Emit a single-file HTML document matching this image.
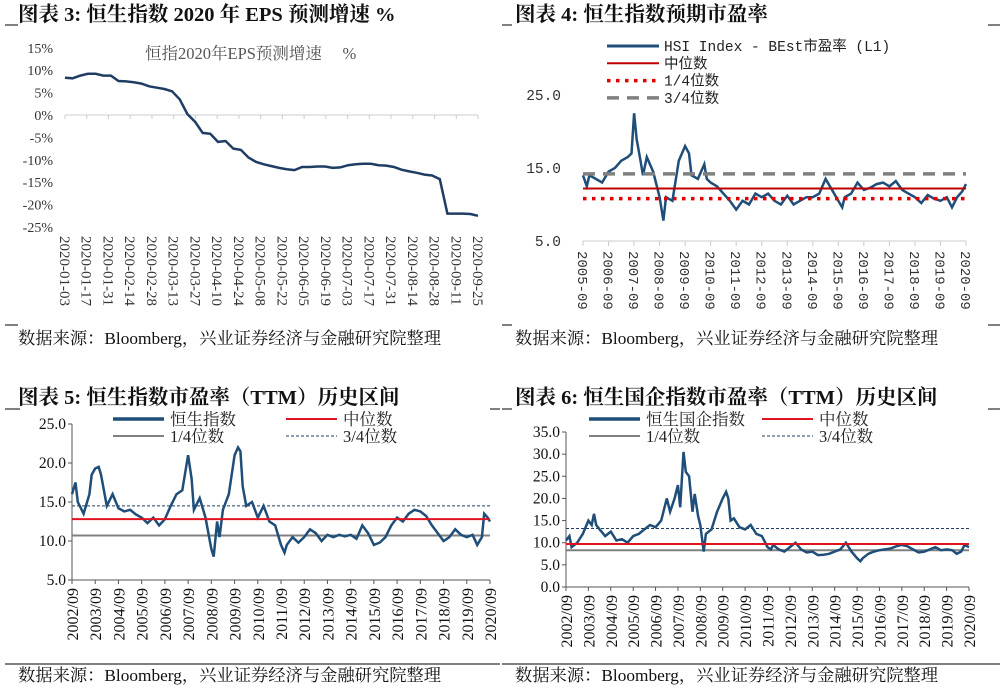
<!DOCTYPE html>
<html><head><meta charset="utf-8"><style>
body{margin:0;background:#fff;width:1001px;height:688px;overflow:hidden}
svg{display:block}
.t{font-family:"Liberation Serif","Noto Serif CJK SC",serif;font-weight:bold;font-size:20.5px;fill:#111}
.s{font-family:"Liberation Serif","Noto Serif CJK SC",serif;font-size:17.3px;fill:#111}
.ax{font-family:"Liberation Serif","Noto Serif CJK SC",serif;fill:#333}
.lg{font-family:"Liberation Serif","Noto Serif CJK SC",serif;fill:#222}
</style></head><body>
<svg id="svg" width="1001" height="688">
<text class="t" x="18" y="21">图表 3:  恒生指数 2020 年 EPS 预测增速 %</text>
<text class="t" x="515" y="21">图表 4:  恒生指数预期市盈率</text>
<text class="t" x="18" y="404">图表 5:  恒生指数市盈率（TTM）历史区间</text>
<text class="t" x="515" y="404">图表 6:  恒生国企指数市盈率（TTM）历史区间</text>
<text class="s" x="18" y="344">数据来源：Bloomberg，兴业证券经济与金融研究院整理</text>
<text class="s" x="515" y="344">数据来源：Bloomberg，兴业证券经济与金融研究院整理</text>
<text class="s" x="18" y="681">数据来源：Bloomberg，兴业证券经济与金融研究院整理</text>
<text class="s" x="515" y="681">数据来源：Bloomberg，兴业证券经济与金融研究院整理</text>
<g stroke="#000" stroke-width="1">
<line x1="5" y1="25" x2="18" y2="25"/><line x1="5" y1="325" x2="18" y2="325"/>
<line x1="502" y1="25" x2="512" y2="25"/><line x1="988" y1="25" x2="1000" y2="25"/>
<line x1="502" y1="325" x2="512" y2="325"/><line x1="988" y1="325" x2="1000" y2="325"/>
<line x1="5" y1="409" x2="20" y2="409"/><line x1="490" y1="409" x2="500" y2="409"/>
<line x1="502" y1="409" x2="512" y2="409"/><line x1="988" y1="409" x2="1000" y2="409"/>
<line x1="5" y1="664" x2="500" y2="664"/><line x1="502" y1="664" x2="1000" y2="664"/>
</g>
<text class="lg" x="145" y="59" style="font-size:16.5px;fill:#555">恒指2020年EPS预测增速　 %</text>
</svg>
<script>
// ---- Chart 3 data ----
var c3Labels=["2020-01-03","2020-01-17","2020-01-31","2020-02-14","2020-02-28","2020-03-13","2020-03-27","2020-04-10","2020-04-24","2020-05-08","2020-05-22","2020-06-05","2020-06-19","2020-07-03","2020-07-17","2020-07-31","2020-08-14","2020-08-28","2020-09-11","2020-09-25"];
var c3Values=[8.3,8.2,8.8,9.2,9.2,8.8,8.8,7.6,7.5,7.3,7.0,6.4,6.1,5.8,5.3,3.5,0.2,-1.5,-4.0,-4.2,-6.0,-5.8,-7.5,-7.8,-9.5,-10.5,-11.0,-11.4,-11.8,-12.1,-12.3,-11.6,-11.6,-11.5,-11.5,-11.8,-11.7,-11.2,-11.0,-10.9,-10.9,-11.2,-11.3,-11.6,-12.2,-12.6,-12.9,-13.3,-13.5,-14.3,-22.0,-22.0,-22.0,-22.1,-22.5];
var c3Ticks=[15,10,5,0,-5,-10,-15,-20,-25];
// ---- Chart 4 data ----
var c4Labels=["2005-09","2006-09","2007-09","2008-09","2009-09","2010-09","2011-09","2012-09","2013-09","2014-09","2015-09","2016-09","2017-09","2018-09","2019-09","2020-09"];
var c4Dates=[2005.75,2005.9,2006.0,2006.25,2006.5,2006.75,2007.0,2007.25,2007.5,2007.65,2007.75,2007.85,2008.0,2008.1,2008.25,2008.5,2008.75,2008.9,2009.0,2009.25,2009.5,2009.75,2009.9,2010.0,2010.25,2010.5,2010.6,2010.75,2011.0,2011.25,2011.5,2011.75,2012.0,2012.25,2012.5,2012.75,2013.0,2013.25,2013.5,2013.75,2014.0,2014.25,2014.5,2014.75,2015.0,2015.25,2015.5,2015.75,2015.9,2016.0,2016.25,2016.5,2016.75,2017.0,2017.25,2017.5,2017.75,2018.0,2018.25,2018.5,2018.75,2019.0,2019.25,2019.5,2019.75,2020.0,2020.2,2020.4,2020.6,2020.75];
var c4Values=[14,12.5,14,13.5,13,14.5,15,16,16.5,17,22.5,19,16,14,16.5,14.5,11,7.8,11,10.5,16,18,17,14,13.5,15.5,13.5,13,12.5,11.5,10.5,9.3,10.5,10,11.5,11,11.5,10.5,10,11.2,10,10.5,11,11,11.5,13.5,12,10.5,9.6,11,11.5,13,12,12.3,12.8,13,12.5,13.2,12,11.5,11,10.2,11.3,10.8,10.5,11,9.6,11,11.8,12.8];
var c4Ticks=[25,15,5];
var c4Stats=[12.2,10.8,14.2];
// ---- Chart 5 data ----
var c56Labels=["2002/09","2003/09","2004/09","2005/09","2006/09","2007/09","2008/09","2009/09","2010/09","2011/09","2012/09","2013/09","2014/09","2015/09","2016/09","2017/09","2018/09","2019/09","2020/09"];
var c5Dates=[2002.75,2002.9,2003.0,2003.25,2003.5,2003.6,2003.75,2003.9,2004.0,2004.25,2004.5,2004.75,2005.0,2005.25,2005.5,2005.75,2006.0,2006.25,2006.5,2006.75,2007.0,2007.25,2007.5,2007.75,2007.9,2008.0,2008.25,2008.5,2008.75,2008.85,2009.0,2009.1,2009.25,2009.5,2009.75,2009.9,2010.0,2010.1,2010.25,2010.5,2010.75,2011.0,2011.25,2011.5,2011.75,2011.9,2012.0,2012.25,2012.5,2012.75,2013.0,2013.25,2013.5,2013.75,2014.0,2014.25,2014.5,2014.75,2015.0,2015.25,2015.5,2015.75,2016.0,2016.25,2016.5,2016.75,2017.0,2017.25,2017.5,2017.75,2018.0,2018.25,2018.5,2018.75,2019.0,2019.25,2019.5,2019.75,2020.0,2020.2,2020.4,2020.5,2020.65,2020.75];
var c5Values=[16,17.5,15,13.5,16,18.5,19.3,19.5,18.5,14.5,16,14.2,13.8,14,13.4,13,12.3,13,12,12.8,14.5,16,16.5,21,18,14,15.5,13,9,8,12.5,10.5,14,16,21,22,21.5,17,14.5,15,13,14.5,12.5,12,9.5,8.5,9.5,10.5,9.8,10.5,11.5,11,10,10.8,10.5,10.8,10.6,10.8,10.3,12,11,9.5,9.8,10.5,12,13,12.5,13.5,14,13.8,13.2,12,11,10,10.5,11.5,10.8,10.5,10.8,9.5,10.5,13.5,13,12.5];
var c5Ticks=[25,20,15,10,5];
var c5Stats=[12.8,10.7,14.5];
// ---- Chart 6 data ----
var c6Dates=[2002.75,2002.9,2003.0,2003.25,2003.5,2003.75,2003.9,2004.0,2004.1,2004.25,2004.5,2004.75,2005.0,2005.25,2005.5,2005.75,2006.0,2006.25,2006.5,2006.75,2007.0,2007.25,2007.4,2007.6,2007.75,2007.85,2008.0,2008.1,2008.25,2008.4,2008.5,2008.65,2008.75,2008.9,2009.0,2009.25,2009.5,2009.75,2009.9,2010.0,2010.1,2010.25,2010.5,2010.75,2011.0,2011.25,2011.5,2011.75,2011.9,2012.0,2012.25,2012.5,2012.75,2013.0,2013.25,2013.5,2013.75,2014.0,2014.25,2014.5,2014.75,2015.0,2015.25,2015.5,2015.75,2015.9,2016.0,2016.25,2016.5,2016.75,2017.0,2017.25,2017.5,2017.75,2018.0,2018.25,2018.5,2018.75,2019.0,2019.25,2019.5,2019.75,2020.0,2020.2,2020.4,2020.55,2020.75];
var c6Values=[10.5,11.5,9,10,12,15,14,16.5,14,13,11.5,12.5,10.5,10.8,10,11.5,12,13,14,13.5,15,20,17,20,23,18,30.5,26,25,17,21,16,14,8,12,13,17,20,21.5,20,15,15.5,13.5,13,14,12,11.5,9,8.5,9.5,8.5,8,9,10,8.5,7.8,8,7.2,7.3,7.5,8,8.5,10,8,6.5,5.8,6.5,7.5,8,8.3,8.5,8.7,9.2,9.5,9.2,8.5,7.8,8,8.5,9,8.3,8.5,8.3,7.5,8,9.5,9];
var c6Ticks=[35,30,25,20,15,10,5,0];
var c6Stats=[9.7,8.3,13.2];

var NS="http://www.w3.org/2000/svg",svg=document.getElementById('svg');
function mk(tag,attrs,parent){var e=document.createElementNS(NS,tag);for(var k in attrs)e.setAttribute(k,attrs[k]);(parent||svg).appendChild(e);return e;}
function lin(d0,d1,r0,r1){return function(v){return r0+(v-d0)/(d1-d0)*(r1-r0);};}
function txt(s,attrs){var e=mk('text',attrs);e.textContent=s;return e;}
function pathD(xs,ys,fx,fy){var d='';for(var i=0;i<xs.length;i++)d+=(i?'L':'M')+fx(xs[i]).toFixed(1)+','+fy(ys[i]).toFixed(1);return d;}
var MONO='font-family:"Liberation Mono","Noto Sans CJK SC",monospace;';

// Chart 3
(function(){
var x=lin(0,19,65,478),y=lin(0,-25,115,227);
var ax=mk('line',{x1:65,y1:115,x2:478,y2:115,stroke:'#ccc','stroke-width':1});


c3Labels.forEach(function(l,i){
 var tk=mk('line',{x1:x(i),y1:115,x2:x(i),y2:119,stroke:'#ccc'});
 
 
 var t=txt(l,{class:'ax',x:0,y:0,transform:'translate('+(x(i)-5)+',236) rotate(90)',style:'font-size:15px'});
 
 
});
c3Ticks.forEach(function(v){
 var t=txt(v+'%',{class:'ax',x:53,y:y(v)+5,'text-anchor':'end',style:'font-size:14px'});
 
 
});
var idx=c3Values.map(function(_,i){return i*19/(c3Values.length-1);});
var p=mk('path',{d:pathD(idx,c3Values,x,y),fill:'none',stroke:'#1f3d63','stroke-width':2.5});


})();

// Chart 4
(function(){
var x0=583,x1=966,x=lin(2005.75,2020.75,x0,x1),y=lin(15,5,168,241);
var ax=mk('line',{x1:x0,y1:241,x2:x1,y2:241,stroke:'#ccc'});


c4Labels.forEach(function(l,i){
 var xx=x(2005.75+i);
 var tk=mk('line',{x1:xx,y1:241,x2:xx,y2:246,stroke:'#ccc'});
 
 
 var t=txt(l,{class:'ax',x:0,y:0,transform:'translate('+(xx-5)+',251) rotate(90)',style:MONO+'font-size:14px'});
 
 
});
c4Ticks.forEach(function(v){
 var t=txt(v.toFixed(1),{class:'ax',x:561,y:y(v)+5,'text-anchor':'end',style:MONO+'font-size:14.5px'});
 
 
});
var p=mk('path',{d:pathD(c4Dates,c4Values,x,y),fill:'none',stroke:'#1f4e79','stroke-width':2.5});


var m=mk('line',{x1:x0,x2:x1,y1:y(c4Stats[0]),y2:y(c4Stats[0]),stroke:'#c00000','stroke-width':2});


var q1=mk('line',{x1:x0,x2:x1,y1:y(c4Stats[1]),y2:y(c4Stats[1]),stroke:'#e00000','stroke-width':3.5,'stroke-dasharray':'3.5 5.5'});


var q3=mk('line',{x1:x0,x2:x1,y1:y(c4Stats[2]),y2:y(c4Stats[2]),stroke:'#808080','stroke-width':3.5,'stroke-dasharray':'12 8'});


var L=[['HSI Index - BEst市盈率 (L1)','#1f4e79','',3],['中位数','#c00000','',2],['1/4位数','#e00000','3.5 5.5',3.5],['3/4位数','#808080','12 8',3.5]];
L.forEach(function(e,i){var yy=46+i*17.3;
 var l=mk('line',{x1:607,x2:659,y1:yy,y2:yy,stroke:e[1],'stroke-width':e[3],'stroke-dasharray':e[2]});
 
 
 var t=txt(e[0],{class:'lg',x:664,y:yy+5,style:MONO+'font-size:14.5px'});
 
 
});
})();

function ttm(cfg){
var x0=cfg.x0,x1=cfg.x1,x=lin(2002.75,2020.75,x0,x1),y=lin(cfg.ymax,cfg.ymin,cfg.yt,cfg.yb);
var ay=mk('line',{x1:x0,y1:cfg.yt,x2:x0,y2:cfg.yb,stroke:'#555'});


var ax=mk('line',{x1:x0,y1:cfg.yb,x2:x1,y2:cfg.yb,stroke:'#555'});


cfg.ticks.forEach(function(v){
 var tk=mk('line',{x1:x0-4,x2:x0,y1:y(v),y2:y(v),stroke:'#555'});
 
 
 var t=txt(v.toFixed(1),{class:'ax',x:x0-6,y:y(v)+5,'text-anchor':'end',style:'font-size:15.5px;fill:#111'});
 
 
});
c56Labels.forEach(function(l,i){
 var xx=x(2002.75+i);
 var tk=mk('line',{x1:xx,x2:xx,y1:cfg.yb,y2:cfg.yb+4,stroke:'#555'});
 
 
 var t=txt(l,{class:'ax',x:0,y:0,'text-anchor':'end',style:'font-size:16px;fill:#111',transform:'translate('+(xx+6)+','+(cfg.yb+8)+') rotate(-90)'});
 
 
});
var q1=mk('line',{x1:x0,x2:x1,y1:y(cfg.stats[1]),y2:y(cfg.stats[1]),stroke:'#808080','stroke-width':2});


var q3=mk('line',{x1:x0,x2:x1,y1:y(cfg.stats[2]),y2:y(cfg.stats[2]),stroke:'#1f3d63','stroke-width':1,'stroke-dasharray':'3 2'});


var p=mk('path',{d:pathD(cfg.dates,cfg.values,x,y),fill:'none',stroke:'#1f4e79','stroke-width':2.5});


var m=mk('line',{x1:x0,x2:x1,y1:y(cfg.stats[0]),y2:y(cfg.stats[0]),stroke:'#e0141e','stroke-width':2});


var L=[[cfg.name,'#1f4e79','',3.5,cfg.l1,419],['中位数','#e0141e','',2,cfg.l2,419],['1/4位数','#808080','',2,cfg.l1,436],['3/4位数','#1f3d63','3 2',1,cfg.l2,436]];
L.forEach(function(e){
 var l=mk('line',{x1:e[4],x2:e[4]+51,y1:e[5],y2:e[5],stroke:e[1],'stroke-width':e[3],'stroke-dasharray':e[2]});
 
 
 var t=txt(e[0],{class:'lg',x:e[4]+57,y:e[5]+6,style:'font-size:16.5px'});
 
 
});
}
ttm({n:'chart5',x0:72,x1:490,yt:424,yb:580,ymax:25,ymin:5,ticks:c5Ticks,stats:c5Stats,dates:c5Dates,values:c5Values,name:'恒生指数',l1:113,l2:286});
ttm({n:'chart6',x0:566,x1:969,yt:432,yb:587,ymax:35,ymin:0,ticks:c6Ticks,stats:c6Stats,dates:c6Dates,values:c6Values,name:'恒生国企指数',l1:589,l2:762});
</script>
</body></html>
